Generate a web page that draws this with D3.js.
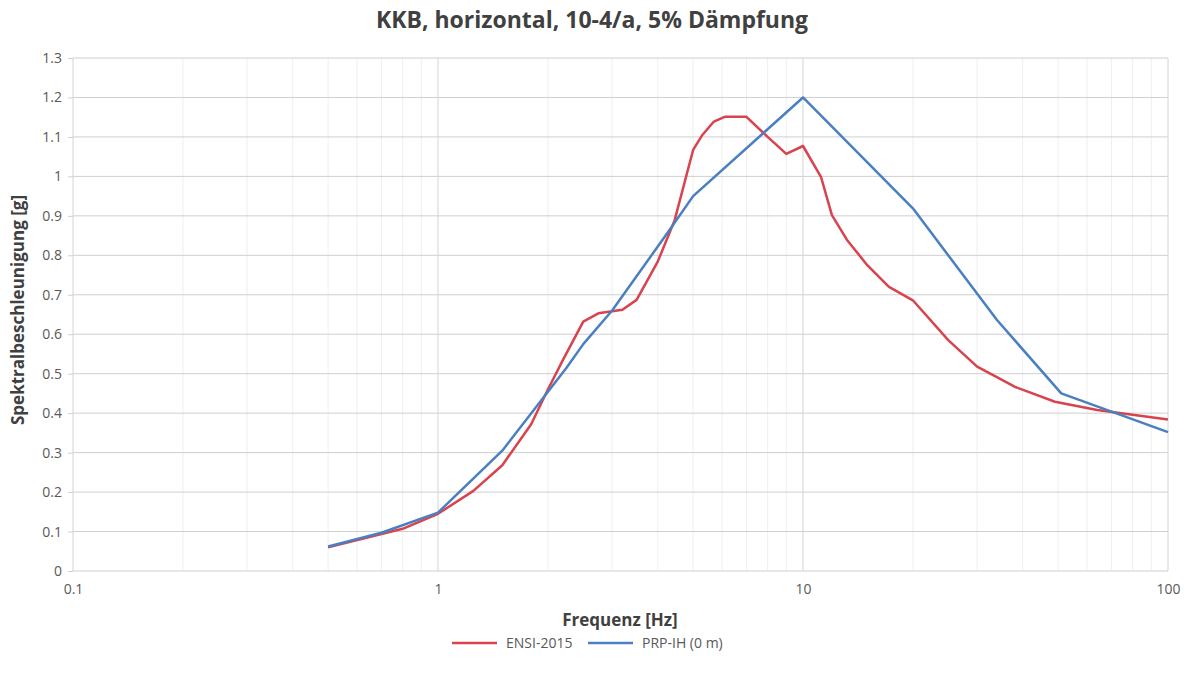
<!DOCTYPE html>
<html lang="de">
<head>
    <meta charset="UTF-8">
    <title>KKB, horizontal, 10-4/a, 5% Dämpfung</title>
    <script src="https://d3js.org/d3.v7.min.js"></script>
    <style>
        body { margin: 0; background: #fff; }
        text { font-family: "Open Sans", "Liberation Sans", sans-serif; }
    </style>
</head>
<body>
    <div id="chart"></div>

    <script>
        // Data
        const ensiFreq = [0.5, 0.8, 1, 1.25, 1.5, 1.8, 2, 2.2, 2.5, 2.75, 3.2, 3.5, 4, 4.45, 5, 5.3, 5.7, 6.1, 7, 8, 9, 10, 11.2, 12, 13.2, 15, 17.2, 20, 25, 30, 38, 49, 64, 100];
        const ensiValue = [0.06, 0.107, 0.145, 0.203, 0.268, 0.372, 0.46, 0.535, 0.632, 0.653, 0.662, 0.687, 0.784, 0.889, 1.067, 1.105, 1.139, 1.151, 1.151, 1.1, 1.057, 1.077, 0.999, 0.902, 0.839, 0.775, 0.72, 0.686, 0.585, 0.518, 0.467, 0.429, 0.408, 0.384];

        const prpFreq = [0.5, 0.7, 1, 1.5, 2.25, 2.5, 3, 4.27, 5, 10, 20, 34, 51, 100];
        const prpValue = [0.062, 0.097, 0.148, 0.305, 0.515, 0.575, 0.66, 0.859, 0.95, 1.2, 0.919, 0.636, 0.45, 0.352];

        const seriesNames = ["ENSI-2015", "PRP-IH (0 m)"];
        const seriesColors = ["#d8434e", "#4a7fc1"];
        const yTicks = d3.range(0, 14).map(i => i / 10);
        const xTicks = [0.1, 1, 10, 100];

        const width = 1185, height = 681;
        const margin = { top: 58, right: 17, bottom: 110, left: 73 };

        const svg = d3.select("#chart").append("svg")
            .attr("width", width).attr("height", height);

        const x = d3.scaleLog().domain([0.1, 100]).range([margin.left, width - margin.right]);
        const y = d3.scaleLinear().domain([0, 1.3]).range([height - margin.bottom, margin.top]);

        // minor vertical grid
        const minor = [];
        [0.1, 1, 10].forEach(d => { for (let k = 2; k <= 9; k++) minor.push(d * k); });
        svg.append("g").selectAll("line").data(minor).enter().append("line")
            .attr("x1", d => x(d)).attr("x2", d => x(d))
            .attr("y1", y(0)).attr("y2", y(1.3))
            .attr("stroke", "#efefef").attr("stroke-width", 1);

        // major grid
        svg.append("g").selectAll("line").data(yTicks).enter().append("line")
            .attr("x1", x(0.1)).attr("x2", x(100))
            .attr("y1", d => y(d)).attr("y2", d => y(d))
            .attr("stroke", "#cfcfcf").attr("stroke-width", 1);
        svg.append("g").selectAll("line").data(xTicks).enter().append("line")
            .attr("x1", d => x(d)).attr("x2", d => x(d))
            .attr("y1", y(0)).attr("y2", y(1.3))
            .attr("stroke", "#d4d4d4").attr("stroke-width", 1);

        // axes
        const yAxis = svg.append("g")
            .attr("transform", `translate(${x(0.1)},0)`)
            .call(d3.axisLeft(y).tickValues(yTicks).tickSize(5).tickPadding(6).tickFormat(d3.format("")));
        const xAxis = svg.append("g")
            .attr("transform", `translate(0,${y(0)})`)
            .call(d3.axisBottom(x).tickValues(xTicks).tickSize(0).tickPadding(13).tickFormat(d => d));
        [yAxis, xAxis].forEach(a => {
            a.select(".domain").remove();
            a.selectAll(".tick line").attr("stroke", "#cfcfcf");
            a.selectAll("text").attr("fill", "#595959").style("font-size", "14px");
        });

        // lines
        const line = d3.line().x(d => x(d[0])).y(d => y(d[1]));
        const series = [d3.zip(ensiFreq, ensiValue), d3.zip(prpFreq, prpValue)];
        svg.append("g").selectAll("path").data(series).enter().append("path")
            .attr("d", line)
            .attr("fill", "none")
            .attr("stroke", (d, i) => seriesColors[i])
            .attr("stroke-width", 2.5)
            .attr("stroke-linejoin", "round");

        // title and axis labels
        svg.append("text")
            .attr("x", 592).attr("y", 28)
            .attr("text-anchor", "middle")
            .attr("fill", "#404040")
            .style("font-size", "23px").style("font-weight", "bold")
            .text("KKB, horizontal, 10-4/a, 5% Dämpfung");

        svg.append("text")
            .attr("x", 620).attr("y", 626)
            .attr("text-anchor", "middle")
            .attr("fill", "#404040")
            .style("font-size", "17px").style("font-weight", "bold")
            .text("Frequenz [Hz]");

        svg.append("text")
            .attr("transform", "translate(24,310) rotate(-90)")
            .attr("text-anchor", "middle")
            .attr("fill", "#404040")
            .style("font-size", "17px").style("font-weight", "bold")
            .text("Spektralbeschleunigung [g]");

        // legend
        const legendX = [452, 588];
        const legend = svg.append("g").selectAll("g").data(seriesNames).enter().append("g")
            .attr("transform", (d, i) => `translate(${legendX[i]},643)`);
        legend.append("line")
            .attr("x1", 0).attr("x2", 45)
            .attr("stroke", (d, i) => seriesColors[i]).attr("stroke-width", 2.5);
        legend.append("text")
            .attr("x", 54).attr("y", 5)
            .attr("fill", "#595959")
            .style("font-size", "14px")
            .text(d => d);
    </script>
</body>
</html>
